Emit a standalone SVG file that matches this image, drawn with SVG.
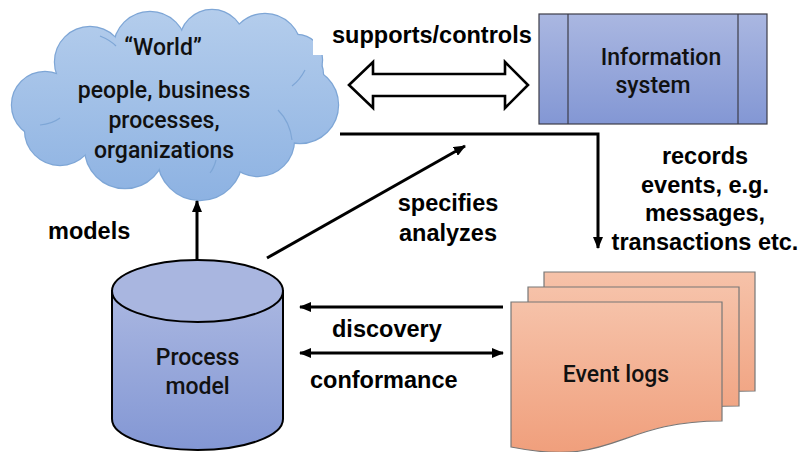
<svg xmlns="http://www.w3.org/2000/svg" width="803" height="452" viewBox="0 0 803 452">
  <defs>
    <linearGradient id="cloudFill" gradientUnits="userSpaceOnUse" x1="0" y1="10" x2="0" y2="200">
      <stop offset="0" stop-color="#b4cdec"/>
      <stop offset="1" stop-color="#8db2e2"/>
    </linearGradient>
    <linearGradient id="blueFill" x1="0" y1="0" x2="0" y2="1">
      <stop offset="0" stop-color="#aab7e1"/>
      <stop offset="1" stop-color="#8397d4"/>
    </linearGradient>
    <linearGradient id="salmonFill" x1="0" y1="0" x2="0" y2="1">
      <stop offset="0" stop-color="#f6c2a9"/>
      <stop offset="1" stop-color="#f09f7c"/>
    </linearGradient>
    <marker id="head" viewBox="0 0 12 10" refX="11" refY="5" markerWidth="12" markerHeight="10" markerUnits="userSpaceOnUse" orient="auto-start-reverse">
      <path d="M0,0 L12,5 L0,10 Z" fill="#000"/>
    </marker>
    <g id="cloudLobes">
      <circle cx="45" cy="105" r="33"/>
      <circle cx="90" cy="62" r="35"/>
      <circle cx="150" cy="48" r="36"/>
      <circle cx="212" cy="42" r="32"/>
      <circle cx="265" cy="50" r="36"/>
      <circle cx="297" cy="60" r="25"/>
      <circle cx="295" cy="75" r="28"/>
      <circle cx="300" cy="105" r="38"/>
      <circle cx="258" cy="140" r="36"/>
      <circle cx="200" cy="158" r="42"/>
      <circle cx="125" cy="148" r="40"/>
      <circle cx="60" cy="130" r="35"/>
    </g>
    <path id="doc" d="M0,0 H211 V119 C105,119 105,166 0,145 Z"/>
  </defs>
  <style>
    .node-text { font-family: Roboto, "Liberation Sans", sans-serif; font-size: 23px; font-weight: 500; fill: #111; text-anchor: middle; }
    .label { font-family: "Liberation Sans", Arial, sans-serif; font-size: 23.5px; font-weight: bold; fill: #000; }
    .mid { text-anchor: middle; }
    .conn { fill: none; stroke: #000; stroke-width: 3; }
    .doc-page { fill: url(#salmonFill); stroke: #777; stroke-width: 1.2; }
  </style>

  <!-- World cloud -->
  <g id="world">
    <use href="#cloudLobes" fill="none" stroke="#7ea6d6" stroke-width="2.4"/>
    <use href="#cloudLobes" fill="url(#cloudFill)"/>
    <ellipse cx="175" cy="100" rx="128" ry="64" fill="url(#cloudFill)"/>
    <g fill="none" stroke="#7ea6d6" stroke-width="1.2">
      <path d="M40,125 Q52,124 60,118"/>
      <path d="M278,110 Q290,122 292,140"/>
      <path d="M100,36 Q110,40 116,46"/>
      <path d="M305,70 Q300,80 292,86"/>
      <path d="M210,173 Q214,168 216,160"/>
    </g>
    <text class="node-text" x="163" y="55">“World”</text>
    <text class="node-text" x="164" y="98">people, business</text>
    <text class="node-text" x="164" y="128">processes,</text>
    <text class="node-text" x="164" y="158">organizations</text>
  </g>

  <!-- label background -->
  <rect x="313" y="18" width="222" height="37" fill="#fff"/>

  <!-- Information system -->
  <g id="information-system">
    <rect x="539" y="14" width="228" height="110" fill="url(#blueFill)" stroke="#3c3c48" stroke-width="1.2"/>
    <line x1="568" y1="14" x2="568" y2="124" stroke="#3c3c48" stroke-width="1.2"/>
    <line x1="738" y1="14" x2="738" y2="124" stroke="#3c3c48" stroke-width="1.2"/>
    <text class="node-text" x="661" y="65">Information</text>
    <text class="node-text" x="653" y="93">system</text>
  </g>

  <!-- Process model -->
  <g id="process-model">
    <path d="M112,291 V419 A85.5,31 0 0 0 283,419 V291 Z" fill="url(#blueFill)" stroke="#000" stroke-width="2"/>
    <ellipse cx="197.5" cy="291" rx="85.5" ry="31" fill="#a9b6e0" stroke="#000" stroke-width="2"/>
    <text class="node-text" x="197.5" y="365">Process</text>
    <text class="node-text" x="197.5" y="394">model</text>
  </g>

  <!-- Event logs -->
  <g id="event-logs">
    <use href="#doc" class="doc-page" transform="translate(544,272)"/>
    <use href="#doc" class="doc-page" transform="translate(528,287)"/>
    <use href="#doc" class="doc-page" transform="translate(511,302)"/>
    <text class="node-text" x="616" y="382">Event logs</text>
  </g>

  <!-- Connectors -->
  <g id="connectors">
    <path d="M349,85 L373,62 L373,74 L505,74 L505,62 L528,85 L505,108 L505,96 L373,96 L373,108 Z" fill="#fff" stroke="#000" stroke-width="2.6" stroke-linejoin="miter"/>
    <path class="conn" d="M197,260 V201" marker-end="url(#head)"/>
    <path class="conn" d="M267,258 L465,146" marker-end="url(#head)"/>
    <path class="conn" d="M340,134 H598 V248" marker-end="url(#head)"/>
    <path class="conn" d="M503,307 H300" marker-end="url(#head)"/>
    <path class="conn" d="M300,353 H503" marker-start="url(#head)" marker-end="url(#head)"/>
  </g>

  <!-- Connector labels -->
  <g id="labels">
    <text class="label" x="332" y="43">supports/controls</text>
    <text class="label" x="48" y="239">models</text>
    <text class="label mid" x="448" y="211">specifies</text>
    <text class="label mid" x="448" y="241">analyzes</text>
    <text class="label mid" x="705" y="164">records</text>
    <text class="label mid" x="705" y="193">events, e.g.</text>
    <text class="label mid" x="705" y="221">messages,</text>
    <text class="label mid" x="705" y="250">transactions etc.</text>
    <text class="label" x="332" y="337">discovery</text>
    <text class="label" x="310" y="388">conformance</text>
  </g>
</svg>
